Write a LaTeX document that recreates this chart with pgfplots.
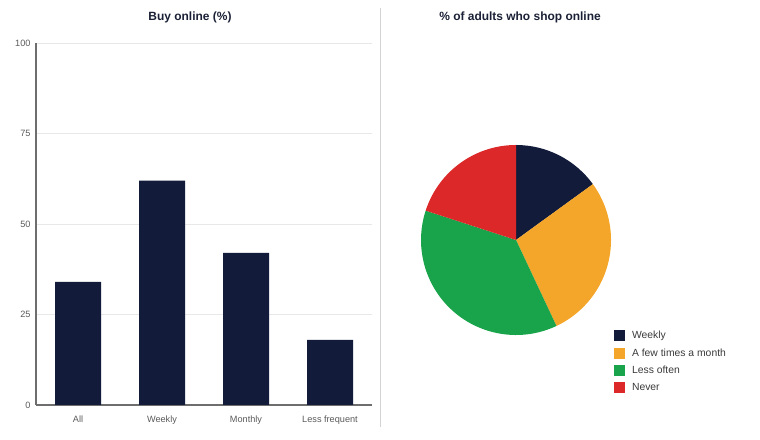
\documentclass[border=0pt]{standalone}
\usepackage{pgfplots}
\pgfplotsset{compat=1.18}
\usepackage{pgfplotstable}
\usepackage{fontspec}
\setmainfont{Liberation Sans}

\definecolor{navy}{HTML}{121B3A}
\definecolor{amber}{HTML}{F4A62A}
\definecolor{leaf}{HTML}{19A34A}
\definecolor{brick}{HTML}{DC2828}
\definecolor{titletext}{HTML}{1A2035}
\definecolor{ticktext}{HTML}{5A5A5A}
\definecolor{legendtext}{HTML}{3A3A3A}
\definecolor{axisgray}{HTML}{6E6E6E}
\definecolor{gridgray}{HTML}{E8E8E8}

% bar chart: share buying online
\pgfplotstableread{
pos share
0 34
1 62
2 42
3 18
}\buyonline

% pie shares (%), clockwise from 12 o'clock
\def\sWeekly{15}
\def\sFew{28}
\def\sLess{37}
\def\sNever{20}

\begin{document}
\begin{tikzpicture}[x=1bp,y=1bp]
\path[use as bounding box] (0,0) rectangle (760,440);

\pgfmathsetmacro\aA{90}
\pgfmathsetmacro\aB{\aA-3.6*\sWeekly}
\pgfmathsetmacro\aC{\aB-3.6*\sFew}
\pgfmathsetmacro\aD{\aC-3.6*\sLess}
\pgfmathsetmacro\aE{\aD-3.6*\sNever}

\begin{axis}[
    at={(36bp,35bp)}, anchor=south west,
    width=336bp, height=362bp, scale only axis,
    xmin=-0.5, xmax=3.5,
    ymin=0, ymax=100,
    ytick={0,25,50,75,100},
    xtick=data,
    xticklabels={All,Weekly,Monthly,Less frequent},
    axis x line*=bottom, axis y line*=left,
    axis line style={-, color=axisgray, line width=1.6bp},
    major tick length=0,
    ymajorgrids,
    grid style={color=gridgray, line width=0.9bp},
    tick label style={font=\fontsize{9.2}{10}\selectfont, text=ticktext},
    /pgf/number format/assume math mode=true,
    yticklabel style={xshift=-2bp},
    xticklabel style={yshift=-7bp},
    ybar, bar width=46bp,
    clip=false,
]
\addplot[fill=navy, draw=none] table[x=pos, y=share] {\buyonline};
\end{axis}

\draw[color=gridgray!80!gray, line width=1bp] (380,13) -- (380,432);

\node[font=\fontsize{12}{14}\selectfont\bfseries, text=titletext] at (190,423) {Buy online (\%)};
\node[font=\fontsize{12}{14}\selectfont\bfseries, text=titletext] at (520,423) {\% of adults who shop online};

\begin{axis}[
    at={(516bp,200bp)}, anchor=center,
    x=95bp, y=95bp,
    xmin=-1, xmax=1, ymin=-1, ymax=1,
    hide axis, clip=false,
    legend image code/.code={\fill[#1, draw=none] (0bp,-5.5bp) rectangle (11bp,5.5bp);},
    legend style={
        at={(axis cs:1.03,-0.94)}, anchor=north west,
        draw=none, fill=none, inner sep=0pt,
        font=\fontsize{10.4}{12}\selectfont, text=legendtext,
        row sep=4.3bp,
        /tikz/every odd column/.append style={column sep=5bp},
    },
    legend cell align=left,
]
\fill[navy]  (axis cs:0,0) -- ++(\aA:95bp) arc[start angle=\aA, end angle=\aB, radius=95bp] -- cycle;
\fill[amber] (axis cs:0,0) -- ++(\aB:95bp) arc[start angle=\aB, end angle=\aC, radius=95bp] -- cycle;
\fill[leaf]  (axis cs:0,0) -- ++(\aC:95bp) arc[start angle=\aC, end angle=\aD, radius=95bp] -- cycle;
\fill[brick] (axis cs:0,0) -- ++(\aD:95bp) arc[start angle=\aD, end angle=\aE, radius=95bp] -- cycle;
\addlegendimage{fill=navy}
\addlegendentry{Weekly}
\addlegendimage{fill=amber}
\addlegendentry{A few times a month}
\addlegendimage{fill=leaf}
\addlegendentry{Less often}
\addlegendimage{fill=brick}
\addlegendentry{Never}
\end{axis}
\end{tikzpicture}
\end{document}
